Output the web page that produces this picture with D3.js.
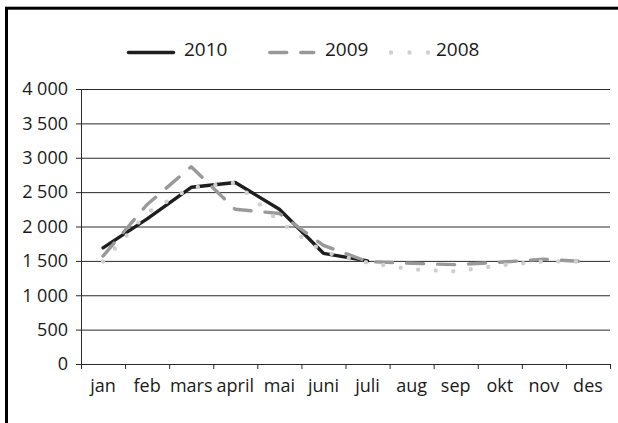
<!DOCTYPE html>
<html>
<head>
<meta charset="utf-8">
<script src="https://cdn.jsdelivr.net/npm/d3@7"></script>
<style>
  body { margin: 0; background: #fff; }
  svg { display: block; font-family: "Open Sans", sans-serif; }
</style>
</head>
<body>
<svg id="chart" width="618" height="423"></svg>
<script>
// Months on the x axis
const months = ['jan', 'feb', 'mars', 'april', 'mai', 'juni', 'juli', 'aug', 'sep', 'okt', 'nov', 'des'];

// Series values (2010 only runs to juli)
const values2010 = [1690, 2110, 2570, 2640, 2250, 1610, 1500];
const values2009 = [1570, 2320, 2870, 2250, 2190, 1725, 1490, 1465, 1445, 1480, 1525, 1485];
const values2008 = [1490, 2200, 2565, 2637, 2070, 1630, 1476, 1377, 1348, 1435, 1493, 1490];

const yTicks = [0, 500, 1000, 1500, 2000, 2500, 3000, 3500, 4000];
const yTickLabels = ['0', '500', '1\u00a0000', '1\u00a0500', '2\u00a0000', '2\u00a0500', '3\u00a0000', '3\u00a0500', '4\u00a0000'];

const series = [
  { name: '2010', values: values2010, color: '#1e1e1e', dash: null, width: 3.4 },
  { name: '2009', values: values2009, color: '#999999', dash: '17 14', width: 3.4 },
  { name: '2008', values: values2008, color: '#cfcfcf', dash: '0 17.6', width: 4.4 },
];

const svg = d3.select('#chart');
const margin = { top: 89, right: 8, bottom: 59, left: 81 };
const width = 618 - margin.left - margin.right;
const height = 423 - margin.top - margin.bottom;

// Outer frame (only left and top edges are visible)
svg.append('rect')
  .attr('x', 6.5)
  .attr('y', 8.2)
  .attr('width', 800)
  .attr('height', 600)
  .attr('fill', 'none')
  .attr('stroke', '#000')
  .attr('stroke-width', 3);

const g = svg.append('g').attr('transform', `translate(${margin.left}, ${margin.top})`);

const x = d3.scaleBand().domain(months).range([0, width]);
const xEdge = d3.scaleLinear().domain([0, months.length]).range([0, width]);
const y = d3.scaleLinear().domain([0, 4000]).range([height, 0]);

// Gridlines
g.append('g')
  .selectAll('line')
  .data(yTicks.slice(1))
  .enter()
  .append('line')
  .attr('x1', 0)
  .attr('x2', width)
  .attr('y1', (d) => y(d) + 0.5)
  .attr('y2', (d) => y(d) + 0.5)
  .attr('stroke', '#2a2a2a')
  .attr('stroke-width', 1);

// Y axis
const yAxis = g.append('g')
  .call(d3.axisLeft(y)
    .tickValues(yTicks)
    .tickSize(5)
    .tickPadding(8)
    .tickFormat((d, i) => yTickLabels[i]));
yAxis.selectAll('text')
  .attr('font-size', 18)
  .attr('font-family', '"Open Sans", sans-serif')
  .attr('fill', '#1a1a1a');
yAxis.selectAll('line, path').attr('stroke', '#2a2a2a');

// X axis: ticks on band edges, labels at band centres
const xTicksAxis = g.append('g')
  .attr('transform', `translate(0, ${height})`)
  .call(d3.axisBottom(xEdge)
    .tickValues(d3.range(months.length + 1))
    .tickSize(5)
    .tickSizeOuter(0)
    .tickFormat(''));
xTicksAxis.selectAll('line, path').attr('stroke', '#2a2a2a');

const xLabels = g.append('g')
  .attr('transform', `translate(0, ${height})`)
  .call(d3.axisBottom(x).tickSize(0).tickPadding(15));
xLabels.select('.domain').remove();
xLabels.selectAll('text')
  .attr('font-size', 18)
  .attr('font-family', '"Open Sans", sans-serif')
  .attr('fill', '#1a1a1a');

// Lines
const line = d3.line()
  .x((d, i) => x(months[i]) + x.bandwidth() / 2)
  .y((d) => y(d));

series.forEach((s) => {
  g.append('path')
    .datum(s.values)
    .attr('fill', 'none')
    .attr('stroke', s.color)
    .attr('stroke-width', s.width)
    .attr('stroke-linecap', 'round')
    .attr('stroke-linejoin', 'round')
    .attr('stroke-dasharray', s.dash)
    .attr('d', line);
});

// Legend
const legendItems = [
  { x: 128.5, len: 45, textX: 184 },
  { x: 269.75, len: 44, textX: 325 },
  { x: 391, len: 38, textX: 436 },
];
const legend = svg.append('g').attr('transform', 'translate(0, 52.5)');
series.forEach((s, i) => {
  const item = legendItems[i];
  legend.append('line')
    .attr('x1', item.x)
    .attr('x2', item.x + item.len)
    .attr('y1', 0)
    .attr('y2', 0)
    .attr('stroke', s.color)
    .attr('stroke-width', s.width)
    .attr('stroke-linecap', 'round')
    .attr('stroke-dasharray', s.name === '2008' ? '0 18.5' : s.dash);
  legend.append('text')
    .attr('x', item.textX)
    .attr('y', 3.5)
    .attr('font-size', 19)
    .attr('fill', '#1a1a1a')
    .text(s.name);
});
</script>
</body>
</html>
